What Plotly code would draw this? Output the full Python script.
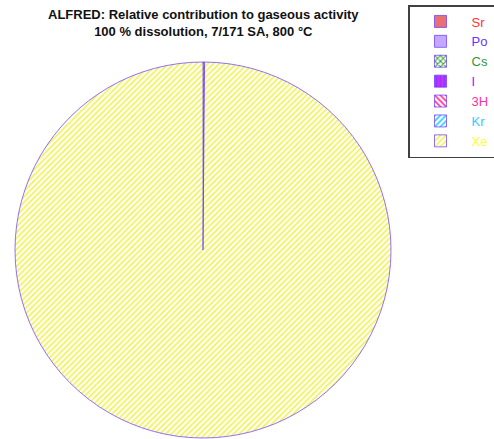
import plotly.graph_objects as go

# Nuclide groups and their share of the gaseous activity (%)
nuclides = ["Sr", "Po", "Cs", "I", "3H", "Kr", "Xe"]
share = [0.0001, 0.0001, 0.0005, 0.005, 0.01, 0.12, 99.8643]
text_colors = ["#ff3333", "#6633ff", "#339933", "#cc00ff", "#ff3399", "#33ccff", "#ffff33"]
fg_colors = ["#e87070", "#c4a8ff", "#339933", "#cc33ff", "#ff3399", "#33ccff", "#f2f25a"]
bg_colors = ["#e87070", "#c4a8ff", "#ffffff", "#9933ff", "#ffffff", "#ffffff", "#ffffff"]
shapes = ["", "", "x", "|", "\\", "/", "/"]

pad = "&nbsp;" * 12
labels = [f'<span style="color:{c}">{n}</span>{pad}' for n, c in zip(nuclides, text_colors)]

W, H = 494, 439
cx0, cx1 = 15, 391
cy0, cy1 = 62, 438

fig = go.Figure(go.Pie(
    labels=labels,
    values=share,
    sort=False,
    direction="clockwise",
    rotation=0,
    textinfo="none",
    hoverinfo="label+percent",
    marker=dict(
        colors=fg_colors,
        line=dict(color="#6633ff", width=0.7),
        pattern=dict(
            shape=shapes,
            fgcolor=fg_colors,
            bgcolor=bg_colors,
            size=4,
            solidity=0.45,
            fillmode="replace",
        ),
    ),
    domain=dict(x=[cx0 / W, cx1 / W], y=[1 - cy1 / H, 1 - cy0 / H]),
))

fig.add_annotation(
    text="<b>ALFRED: Relative contribution to gaseous activity</b><br><b>100 % dissolution, 7/171 SA, 800 °C</b>",
    x=203 / W, y=1 - 5 / H, xref="paper", yref="paper",
    xanchor="center", yanchor="top", showarrow=False,
    font=dict(family="Liberation Sans, Arial", size=13, color="#111111"),
    align="center",
)

fig.update_layout(
    width=W, height=H,
    margin=dict(l=0, r=0, t=0, b=0, autoexpand=False),
    paper_bgcolor="white",
    plot_bgcolor="white",
    showlegend=True,
    legend=dict(
        x=408 / W, y=1 - 5 / H, xanchor="left", yanchor="top",
        bordercolor="#404040", borderwidth=1.5,
        bgcolor="white",
        font=dict(family="Liberation Sans, Arial", size=13),
        traceorder="normal",
        itemwidth=52,
    ),
)

fig.write_html("out.html")
